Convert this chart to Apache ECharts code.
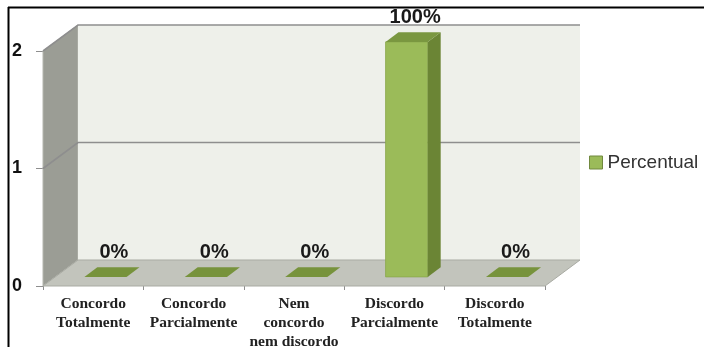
<!DOCTYPE html>
<html>
<head>
<meta charset="utf-8">
<script src="https://cdn.jsdelivr.net/npm/echarts@6/dist/echarts.min.js"></script>
<style>
  html, body { margin: 0; padding: 0; background: #ffffff; }
  #chart { width: 704px; height: 347px; }
</style>
</head>
<body>
<div id="chart"></div>
<script>
// Survey answers: number of responses per option
const categories = [
  'Concordo\nTotalmente',
  'Concordo\nParcialmente',
  'Nem\nconcordo\nnem discordo',
  'Discordo\nParcialmente',
  'Discordo\nTotalmente'
];
const counts = [0, 0, 0, 2, 0];
const yTicks = [0, 1, 2];
const seriesName = 'Percentual';

// Percent labels derived from the counts
const total = counts.reduce((a, b) => a + b, 0);
const percentLabels = counts.map(c => Math.round(c / total * 100) + '%');

// Pseudo-3D projection settings (pixel depth of the plot box)
const DEPTH_X = 35, DEPTH_Y = -26;
const BAR_FRONT = 0.35, BAR_BACK = 0.72, BAR_WIDTH = 0.42;

const colors = {
  barFront: '#9bbb59', barSide: '#6b8535', barTop: '#7a9740', flat: '#77933c',
  wallLeft: '#9b9d95', wallBack: '#eef0ea', floor: '#c2c4bc', grid: '#8e8e8e'
};

const chart = echarts.init(document.getElementById('chart'), null, { renderer: 'canvas' });

function renderWalls(params, api) {
  const cs = params.coordSys;
  const x0 = cs.x, x1 = cs.x + cs.width;
  const yMin = api.coord([0, yTicks[0]])[1];
  const yMax = api.coord([0, yTicks[yTicks.length - 1]])[1];
  const children = [];
  // left wall
  children.push({ type: 'polygon', shape: { points: [[x0, yMax], [x0 + DEPTH_X, yMax + DEPTH_Y], [x0 + DEPTH_X, yMin + DEPTH_Y], [x0, yMin]] },
    style: { fill: colors.wallLeft, stroke: '#b5b7af', lineWidth: 1 } });
  // back wall
  children.push({ type: 'rect', shape: { x: x0 + DEPTH_X, y: yMax + DEPTH_Y, width: x1 - x0, height: yMin - yMax } ,
    style: { fill: colors.wallBack } });
  // floor
  children.push({ type: 'polygon', shape: { points: [[x0, yMin], [x1, yMin], [x1 + DEPTH_X, yMin + DEPTH_Y], [x0 + DEPTH_X, yMin + DEPTH_Y]] },
    style: { fill: colors.floor, stroke: '#a9aba3', lineWidth: 1 } });
  // gridlines across left wall and back wall
  yTicks.forEach(v => {
    if (v === yTicks[0]) return;
    const y = api.coord([0, v])[1];
    children.push({ type: 'polyline', shape: { points: [[x0, y], [x0 + DEPTH_X, y + DEPTH_Y], [x1 + DEPTH_X, y + DEPTH_Y]] },
      style: { stroke: colors.grid, lineWidth: 1.6, fill: null } });
  });
  return { type: 'group', children: children, silent: true };
}

function renderBar(params, api) {
  const i = api.value(0), v = api.value(1);
  const topPt = api.coord([i, v]);
  const basePt = api.coord([i, 0]);
  const bw = api.size([1, 0])[0] * BAR_WIDTH;
  const fx = DEPTH_X * BAR_FRONT, fy = DEPTH_Y * BAR_FRONT;
  const dx = DEPTH_X * (BAR_BACK - BAR_FRONT), dy = DEPTH_Y * (BAR_BACK - BAR_FRONT);
  const left = topPt[0] - bw / 2 + fx, right = left + bw;
  const top = topPt[1] + fy, bottom = basePt[1] + fy;
  const children = [];
  if (bottom - top > 0.5) {
    children.push({ type: 'rect', shape: { x: left, y: top, width: bw, height: bottom - top },
      style: { fill: colors.barFront, stroke: '#8aa84c', lineWidth: 0.8 } });
    children.push({ type: 'polygon', shape: { points: [[right, top], [right + dx, top + dy], [right + dx, bottom + dy], [right, bottom]] },
      style: { fill: colors.barSide } });
    children.push({ type: 'polygon', shape: { points: [[left, top], [right, top], [right + dx, top + dy], [left + dx, top + dy]] },
      style: { fill: colors.barTop } });
  } else {
    children.push({ type: 'polygon', shape: { points: [[left, top], [right, top], [right + dx, top + dy], [left + dx, top + dy]] },
      style: { fill: colors.flat } });
  }
  children.push({ type: 'text', x: (left + right) / 2 + dx / 2 + 2, y: top + dy / 2 - 20,
    style: { text: percentLabels[i], fill: '#1a1a1a', font: 'bold 20px "Liberation Sans", Arial, sans-serif', align: 'center', verticalAlign: 'middle' } });
  return { type: 'group', children: children };
}

chart.setOption({
  animation: false,
  backgroundColor: '#ffffff',
  grid: { left: 43, right: 159, top: 51, bottom: 61, containLabel: false, outerBoundsMode: 'none' },
  legend: {
    data: [seriesName], left: 584, top: 148, icon: 'rect', itemWidth: 13, itemHeight: 13,
    itemStyle: { borderColor: '#71893f', borderWidth: 1 },
    textStyle: { fontSize: 19, fontFamily: '"Liberation Sans", Arial, sans-serif', color: '#333333' }
  },
  xAxis: {
    type: 'category', data: categories,
    axisLine: { show: false },
    axisTick: { show: true, length: 4, alignWithLabel: false, lineStyle: { color: '#8e8e8e' } },
    axisLabel: { interval: 0, margin: 8, fontFamily: '"Liberation Serif", "Times New Roman", serif', fontWeight: 'bold',
      fontSize: 15.5, lineHeight: 19, color: '#222222' },
    splitLine: { show: false }
  },
  yAxis: {
    type: 'value', min: 0, max: 2, interval: 1,
    axisLine: { show: false },
    axisTick: { show: true, length: 7, lineStyle: { color: '#8e8e8e' } },
    axisLabel: { margin: 21, fontFamily: '"Liberation Sans", Arial, sans-serif', fontWeight: 'bold', fontSize: 18, color: '#111111',
      padding: [6, 0, 0, 0] },
    splitLine: { show: false }
  },
  series: [
    { type: 'custom', name: 'walls', renderItem: renderWalls, data: [[0, 0]], z: 1, silent: true, clip: false },
    { type: 'custom', name: seriesName, renderItem: renderBar, itemStyle: { color: colors.barFront },
      data: counts.map((c, i) => [i, c]), z: 2, clip: false }
  ],
  graphic: [
    { type: 'line', shape: { x1: 8.5, y1: 7, x2: 8.5, y2: 347 }, style: { stroke: '#000', lineWidth: 2 }, z: 10 },
    { type: 'line', shape: { x1: 8, y1: 7.5, x2: 704, y2: 7.5 }, style: { stroke: '#000', lineWidth: 2 }, z: 10 }
  ]
});
</script>
</body>
</html>
